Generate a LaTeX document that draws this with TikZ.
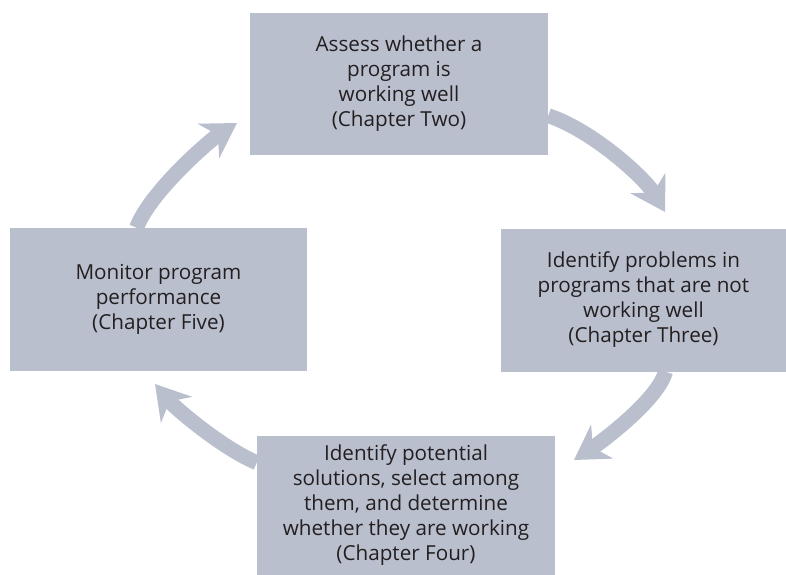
\documentclass[tikz,border=0pt]{standalone}
\usepackage{fontspec}
\setmainfont{Open Sans}
\usetikzlibrary{arrows.meta}
\definecolor{boxgray}{RGB}{186,191,206}
\definecolor{txtgray}{RGB}{35,31,32}
\tikzset{
  stagebox/.style={fill=boxgray,draw=none,align=center,text=txtgray,inner sep=0.75pt,
    font=\fontsize{15.5}{18.75}\selectfont},
  cyclearrow/.style={draw=boxgray,line width=11.25pt,
    -{Stealth[length=25pt,width=30pt,inset=8pt,fill=boxgray]}}
}
\begin{document}
\begin{tikzpicture}[x=0.75pt,y=0.75pt,yscale=-1,xscale=1]
\useasboundingbox (0,0) rectangle (786,575);

%Shape: Rectangle [id:assess]
\node [stagebox,minimum width=223.5pt,minimum height=106.5pt] (assess) at (399,84)
  {Assess whether a\\program is\\working well\\(Chapter Two)};
%Shape: Rectangle [id:problems]
\node [stagebox,minimum width=213.75pt,minimum height=107.25pt] (problems) at (643.5,300)
  {Identify problems in\\programs that are not\\working well\\(Chapter Three)};
%Shape: Rectangle [id:solutions]
\node [stagebox,minimum width=223.5pt,minimum height=104.25pt] (solutions) at (406,505.5)
  {Identify potential\\solutions, select among\\them, and determine\\whether they are working\\(Chapter Four)};
%Shape: Rectangle [id:monitor]
\node [stagebox,minimum width=222.75pt,minimum height=107.25pt] (monitor) at (158.5,299.5)
  {Monitor program\\performance\\(Chapter Five)};

%Arrow tips
\coordinate (tipA) at (665,212);
\coordinate (tipB) at (574,460);
\coordinate (tipC) at (155,384);
\coordinate (tipD) at (237,123);

%Curve Lines
\draw [cyclearrow] (assess.-12) .. controls (592,130) and (645,178) .. (tipA);
\draw [cyclearrow] (problems.-73) .. controls (658,400) and (600,443) .. (tipB);
\draw [cyclearrow] (solutions.164) .. controls (222,448) and (175,408) .. (tipC);
\draw [cyclearrow] (monitor.107) .. controls (150,192) and (210,140) .. (tipD);

\end{tikzpicture}
\end{document}
